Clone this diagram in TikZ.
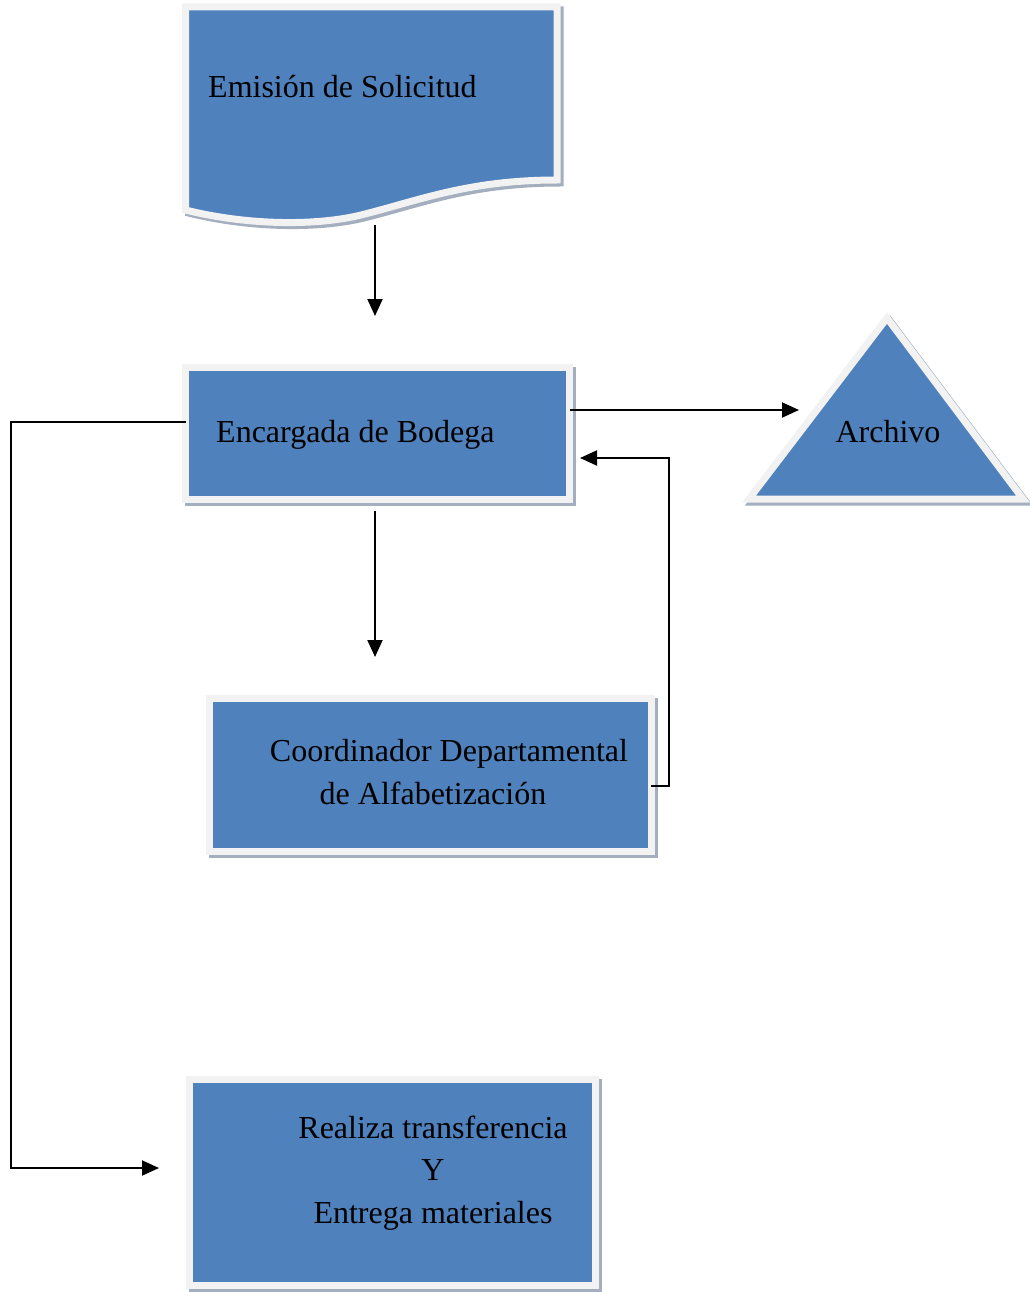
\documentclass[tikz,border=0pt]{standalone}
\usepackage{fontspec}
\setmainfont{Liberation Serif}
\usetikzlibrary{arrows.meta,positioning,calc}
\definecolor{boxblue}{HTML}{4F81BD}
\definecolor{boxrim}{HTML}{F2F2F2}
\definecolor{boxshade}{HTML}{A3AEBE}
\newcommand{\flowfont}{\fontsize{32}{42.5}\selectfont}
\tikzset{
  fc/shade/.style={preaction={draw=boxshade, fill=boxshade, line width=7pt, transform canvas={shift={(3pt,-3pt)}}}},
  fc/box/.style={fc/shade, draw=boxrim, fill=boxblue, line width=7pt, rectangle, inner sep=0pt, outer sep=0pt},
  fc/shape/.style={fc/shade, draw=boxrim, fill=boxblue, line width=7pt},
  fc/label/.style={font=\flowfont, align=center, inner sep=0pt},
  fc/arr/.style={-{Triangle[length=17pt,width=15pt]}, line width=2pt},
}

\begin{document}
\begin{tikzpicture}[x=1pt, y=-1pt]
\useasboundingbox (0,0) rectangle (1029,1292);

% solicitud (documento)
\path[fc/shape] (185.5,7) -- (557,7) -- (557,180)
  .. controls (470,180) and (420,200) .. (365,214)
  .. controls (320,226) and (250,226) .. (185.5,210) -- cycle;
\coordinate (emision-foot) at (375,225);
\node[fc/label, anchor=base west] (emision) at (208,98) {Emisión de Solicitud};

% cajas
\node[fc/box, minimum width=384pt, minimum height=132pt] (bodega) at (377.5,433) {};
\node[fc/label, anchor=base west] (bodega-txt) at (216,442) {Encargada de Bodega};

\node[fc/box, minimum width=442pt, minimum height=153pt] (coord) at (430,775) {};
\node[fc/label] (coord-txt) at (441,772) {\hspace*{16pt}Coordinador Departamental\\de Alfabetización\hspace*{16pt}};

\node[fc/box, minimum width=406pt, minimum height=206pt] (entrega) at (392,1182) {};
\node[fc/label] (entrega-txt) at (433,1173) {Realiza transferencia\\Y\\Entrega materiales};

% archivo
\path[fc/shape] (887,318) coordinate (archivo-top) -- (1023,499) coordinate (archivo-right)
  -- (749,499) coordinate (archivo-left) -- cycle;
\node[fc/label, anchor=base] (archivo) at (888,442) {Archivo};

% flechas
\coordinate (bodega-head) at (375,316);
\coordinate (coord-head) at (375,657);
\coordinate (archivo-tip) at (799,410);
\draw[fc/arr] (emision-foot) -- (bodega-head);
\draw[fc/arr] (bodega.east |- archivo-tip) -- (archivo-tip);
\draw[fc/arr] ([yshift=-12pt]coord-head |- bodega.south) -- (coord-head);
\draw[fc/arr] ([yshift=-11pt]coord.east) -- ++(18,0) |- ([xshift=10.5pt,yshift=-25pt]bodega.east);
\draw[fc/arr] ([yshift=11pt]bodega.west) -- ++(-175,0) |- ([xshift=-30pt,yshift=14pt]entrega.west);
\end{tikzpicture}
\end{document}
